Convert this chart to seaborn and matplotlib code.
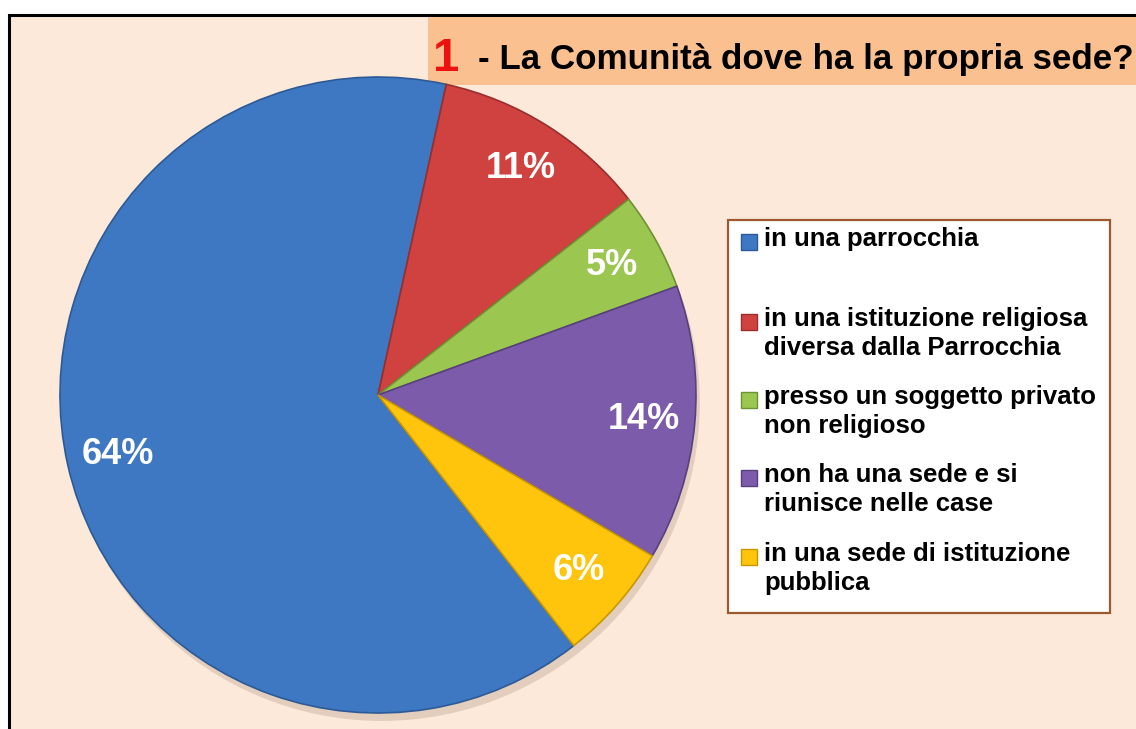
import seaborn as sns
import matplotlib.pyplot as plt
from matplotlib.patches import Rectangle, Circle

# data
categories = [
    "in una parrocchia\n ",
    "in una istituzione religiosa\ndiversa dalla Parrocchia",
    "presso un soggetto privato\nnon religioso",
    "non ha una sede e si\nriunisce nelle case",
    "in una sede di istituzione\npubblica",
]
shares = [64, 11, 5, 14, 6]
slice_colors = ["#3f78c2", "#cf423f", "#9bc64f", "#7d5bab", "#fec50c"]
edge_colors = ["#2c5a96", "#9a2e2b", "#6f9234", "#58407f", "#c99700"]

title_num = "1"
title_text = "- La Comunità dove ha la propria sede?"

sns.set_theme(style="white")
plt.rcParams['font.family'] = ['Liberation Sans Narrow', 'Liberation Sans', 'DejaVu Sans']

W, H = 1136, 729
fig = plt.figure(figsize=(W / 100, H / 100), dpi=100)
fig.patch.set_facecolor("white")


def fx(px):
    return px / W


def fy(py):
    return 1 - py / H


# chart area frame and title box
fig.patches.append(Rectangle((fx(9), fy(740)), fx(1140), 725 / H, transform=fig.transFigure,
                             facecolor="#fce9da", edgecolor="black", lw=2.2, zorder=-2))
fig.patches.append(Rectangle((fx(428), fy(85)), fx(720), 68 / H, transform=fig.transFigure,
                             facecolor="#fac090", edgecolor="none", zorder=-1))
fig.text(fx(433), fy(71), title_num, color="#ee1111", fontsize=34, fontweight="bold",
         va="baseline", ha="left")
fig.text(fx(478), fy(69), title_text, color="black", fontsize=25.2, fontweight="bold",
         va="baseline", ha="left")

# pie
cx, cy, r = 378, 395, 318
ax = fig.add_axes([fx(cx - r), fy(cy + r), 2 * r / W, 2 * r / H])
ax.set_zorder(1)
ax.patch.set_alpha(0)
shadow = Circle((0.012, -0.025), 1.0, facecolor="#d9c2b0", edgecolor="none", alpha=0.7, zorder=0)
shadow.set_clip_on(False)
ax.add_patch(shadow)
wedges, texts, autotexts = ax.pie(
    shares, colors=slice_colors, startangle=-52, counterclock=False,
    autopct="%1.0f%%", pctdistance=0.84,
    wedgeprops=dict(linewidth=1.2),
    textprops=dict(color="white", fontsize=26, fontweight="bold"),
)
for w, ec in zip(wedges, edge_colors):
    w.set_edgecolor(ec)
    w.set_zorder(2)
for t in autotexts:
    t.set_zorder(3)
ax.set_xlim(-1, 1)
ax.set_ylim(-1, 1)
ax.set_aspect("equal")
ax.axis("off")

# legend box
fig.patches.append(Rectangle((fx(728), fy(613)), fx(382), 393 / H, transform=fig.transFigure,
                             facecolor="white", edgecolor="#9c5a2e", lw=1.6, zorder=1))
first_line = [242, 322, 400, 478, 557]
for lab, col, ec, yc in zip(categories, slice_colors, edge_colors, first_line):
    fig.patches.append(Rectangle((fx(741), fy(yc + 8)), fx(16), 16 / H, transform=fig.transFigure,
                                 facecolor=col, edgecolor=ec, lw=1, zorder=2))
    fig.text(fx(764), fy(yc - 15), lab, fontsize=18.5, fontweight="bold", color="black",
             va="top", ha="left", linespacing=1.25, zorder=3)

fig.savefig("out.png", dpi=100)
